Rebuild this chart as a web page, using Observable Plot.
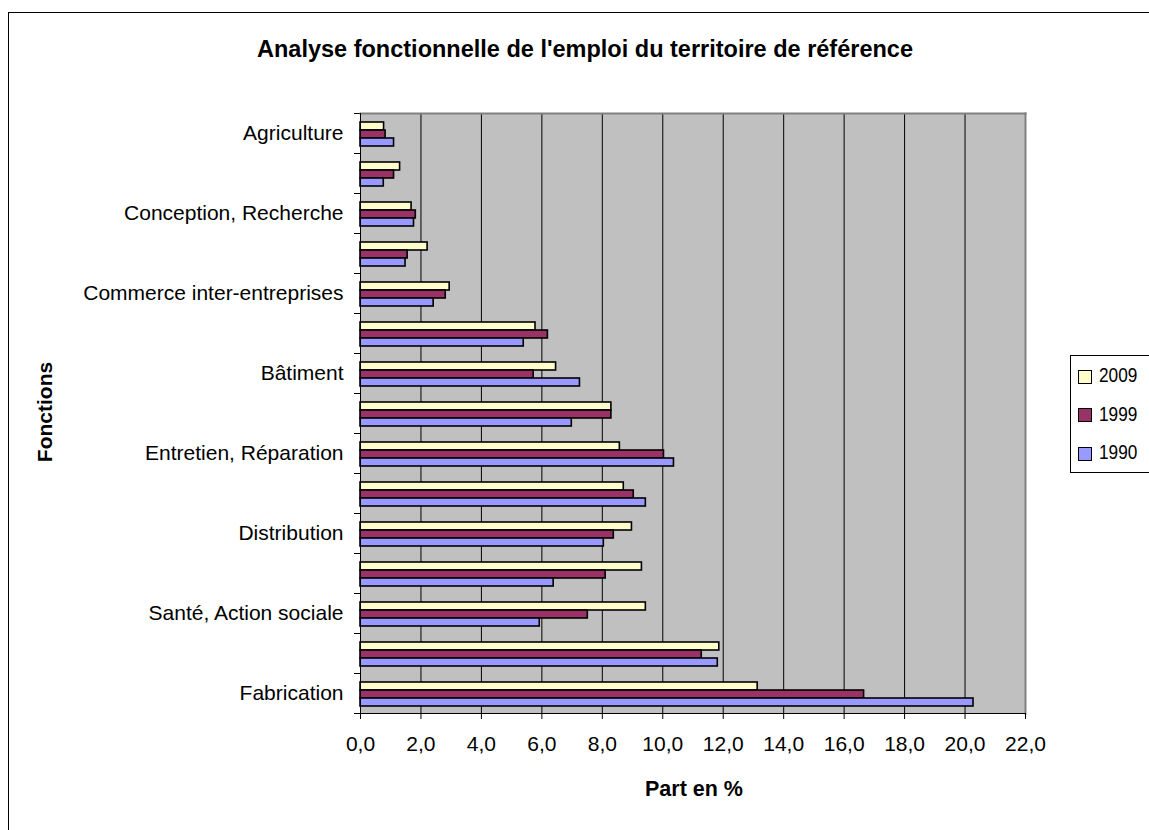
<!DOCTYPE html>
<html>
<head>
<meta charset="utf-8">
<script src="https://cdn.jsdelivr.net/npm/d3@7"></script>
<script src="https://cdn.jsdelivr.net/npm/@observablehq/plot@0.6"></script>
<style>
  html, body { margin: 0; padding: 0; background: #fff; }
  #page { position: relative; width: 1149px; height: 830px; overflow: hidden;
          font-family: "Liberation Sans", Arial, sans-serif; color: #000; }
  #border { position: absolute; left: 8px; top: 12px; width: 3000px; height: 3000px;
            border-left: 1px solid #000; border-top: 1px solid #000; }
  #chart { position: absolute; left: 0; top: 0; }
  #title { position: absolute; left: 0; width: 1170px; top: 35.5px; text-align: center;
           font-weight: bold; font-size: 23.5px; line-height: normal; white-space: nowrap; }
  #xlabel { position: absolute; left: 394px; width: 600px; top: 776.5px; text-align: center;
            font-weight: bold; font-size: 21.5px; line-height: normal; white-space: nowrap; }
  #ylabel { position: absolute; left: -105.3px; top: 400px; width: 300px; height: 24px; line-height: 24px;
            text-align: center; font-weight: bold; font-size: 21px; transform: rotate(-90deg); white-space: nowrap; }
  #legend { position: absolute; left: 1070px; top: 355px; width: 200px; height: 116px;
            border: 1px solid #000; background: #fff; }
  .sw { position: absolute; left: 7px; width: 12px; height: 12px; border: 1px solid #000; }
  .lt { position: absolute; left: 28px; font-size: 21px; line-height: normal; white-space: nowrap;
        transform: scaleX(0.82); transform-origin: 0 50%; }
</style>
</head>
<body>
<div id="page">
  <div id="border"></div>
  <div id="chart"></div>
  <div id="title"></div>
  <div id="xlabel"></div>
  <div id="ylabel"></div>
  <div id="legend"></div>
</div>
<script>
// ---- Data (top to bottom order as in the chart) ----
const categories = [
  "Agriculture",
  "Culture, Loisirs",
  "Conception, Recherche",
  "Prestations intellectuelles",
  "Commerce inter-entreprises",
  "Éducation, Formation",
  "Bâtiment",
  "Transports, Logistique",
  "Entretien, Réparation",
  "Administration publique",
  "Distribution",
  "Services de proximité",
  "Santé, Action sociale",
  "Gestion",
  "Fabrication"
];
const labeledCategories = [
  "Agriculture", "Conception, Recherche", "Commerce inter-entreprises", "Bâtiment",
  "Entretien, Réparation", "Distribution", "Santé, Action sociale", "Fabrication"
];
const years = ["2009", "1999", "1990"];
const v2009 = [0.78, 1.31, 1.69, 2.22, 2.95, 5.79, 6.47, 8.30, 8.58, 8.71, 8.98, 9.31, 9.44, 11.87, 13.14];
const v1999 = [0.83, 1.11, 1.83, 1.56, 2.82, 6.20, 5.73, 8.30, 10.04, 9.04, 8.38, 8.11, 7.52, 11.29, 16.66];
const v1990 = [1.11, 0.77, 1.77, 1.49, 2.42, 5.40, 7.26, 6.99, 10.37, 9.44, 8.05, 6.39, 5.93, 11.82, 20.28];
const yearColors = ["#FFFFCC", "#993366", "#9999FF"];
const xTicks = [0, 2, 4, 6, 8, 10, 12, 14, 16, 18, 20, 22];
const gridValues = [2, 4, 6, 8, 10, 12, 14, 16, 18, 20];
const titleText = "Analyse fonctionnelle de l'emploi du territoire de référence";
const xLabelText = "Part en %";
const yLabelText = "Fonctions";

const seriesByYear = {"2009": v2009, "1999": v1999, "1990": v1990};
const rows = categories.flatMap((c, i) => years.map(y => ({category: c, year: y, value: seriesByYear[y][i]})));

// ---- Layout ----
const W = 1149, H = 830, mt = 108, mb = 113, ml = 360, mr = 124;
const innerW = W - ml - mr;
const fmt = d => d.toFixed(1).replace(".", ",");

const plot = Plot.plot({
  width: W, height: H,
  marginTop: mt, marginBottom: mb, marginLeft: ml, marginRight: mr,
  style: {fontFamily: "'Liberation Sans', Arial, sans-serif", fontSize: "21px", color: "#000", background: "transparent", overflow: "visible"},
  x: {domain: [0, 22], axis: null},
  fy: {domain: categories, padding: 0, axis: null},
  y: {domain: years, paddingInner: 0, paddingOuter: 0.84, align: 0.55, axis: null},
  color: {domain: years, range: yearColors},
  marks: [
    Plot.frame({facet: "super", fill: "#c0c0c0", stroke: "none"}),
    Plot.ruleX(gridValues, {stroke: "#000", strokeWidth: 1}),
    Plot.frame({anchor: "top", insetLeft: -6, insetRight: innerW, stroke: "#000"}),
    Plot.frame({anchor: "bottom", insetLeft: -6, insetRight: innerW, stroke: "#000"}),
    Plot.barX(rows, {fy: "category", y: "year", x: "value", fill: "year", stroke: "#000", strokeWidth: 1.6}),
    Plot.frame({facet: "super", anchor: "top", stroke: "#808080", strokeWidth: 2}),
    Plot.frame({facet: "super", anchor: "right", stroke: "#808080", strokeWidth: 2}),
    Plot.frame({facet: "super", anchor: "left", stroke: "#000"}),
    Plot.frame({facet: "super", anchor: "bottom", stroke: "#000"}),
    Plot.axisX({ticks: xTicks, tickFormat: fmt, tickSize: 6, tickPadding: 17, fontSize: 21, label: null, stroke: "#000"}),
    Plot.axisFy({anchor: "left", tickSize: 0, tickPadding: 17, fontSize: 21, label: null,
      tickFormat: d => labeledCategories.includes(d) ? d : ""})
  ]
});
document.getElementById("chart").appendChild(plot);

document.getElementById("title").textContent = titleText;
document.getElementById("xlabel").textContent = xLabelText;
document.getElementById("ylabel").textContent = yLabelText;

// Legend built from the plot's color scale
const colorScale = plot.scale("color");
const legend = document.getElementById("legend");
colorScale.domain.forEach((d, i) => {
  const sw = document.createElement("div");
  sw.className = "sw";
  sw.style.top = (14 + i * 38.4) + "px";
  sw.style.background = colorScale.range[i];
  legend.appendChild(sw);
  const t = document.createElement("div");
  t.className = "lt";
  t.style.top = (26.7 - 19 + i * 38.4 - 0.5) + "px";
  t.textContent = d;
  legend.appendChild(t);
});
</script>
</body>
</html>
